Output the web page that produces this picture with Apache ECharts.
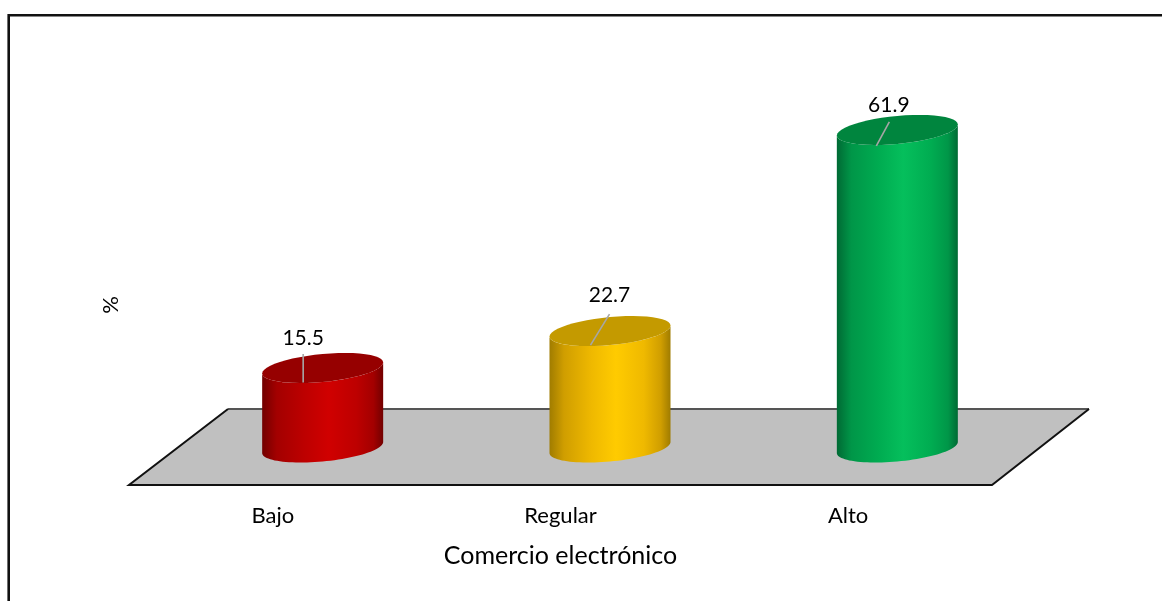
<!DOCTYPE html>
<html>
<head>
<meta charset="utf-8">
<style>html,body{margin:0;padding:0;background:#fff}#c{width:1162px;height:601px}</style>
<script src="https://cdn.jsdelivr.net/npm/echarts@6/dist/echarts.min.js"></script>
</head>
<body>
<div id="c"></div>
<script>
const categories = ['Bajo', 'Regular', 'Alto'];
const values = [15.5, 22.7, 61.9];
const xAxisName = 'Comercio electrónico';
const yAxisName = '%';

const palette = [
  { edge: '#720000', low: '#a30000', mid: '#bd0000', bright: '#d00000', top: '#960000' },
  { edge: '#a07c00', low: '#d09e00', mid: '#efb900', bright: '#ffcb00', top: '#c49a00' },
  { edge: '#006a34', low: '#009648', mid: '#00ac51', bright: '#05bf5c', top: '#00853e' }
];
// leader-line layout relative to the top ellipse centre [fromX, fromY, toX, toY], pixels
const leaders = [[-19.5, 14.5, -19.5, -14], [-19.5, 14, -0.5, -17], [-21, 16, -8, -8]];
const labelOffset = [[-19.5, -30], [-0.5, -36], [-8.5, -25]];

const HALF_W = 60.5, SHEAR = 5.5, RY = 14;
const FONT = 'Lato, Carlito, sans-serif';

function arc(cx, cy, from, to) {
  const pts = [];
  const n = 48;
  for (let i = 0; i <= n; i++) {
    const t = from + (to - from) * i / n;
    pts.push([cx + HALF_W * Math.cos(t), cy + RY * Math.sin(t) - SHEAR * Math.cos(t)]);
  }
  return pts;
}

function renderCylinder(params, api) {
  const i = api.value(0);
  const val = api.value(1);
  const base = api.coord([i, 0]);
  const head = api.coord([i, val]);
  const cx = base[0];
  const c = palette[i];
  const body = arc(cx, base[1], 0, Math.PI).concat(arc(cx, head[1], Math.PI, 0));
  const top = arc(cx, head[1], 0, Math.PI * 2);
  const l = leaders[i], o = labelOffset[i];
  return {
    type: 'group',
    children: [
      {
        type: 'polygon', shape: { points: body },
        style: {
          fill: new echarts.graphic.LinearGradient(0, 0, 1, 0, [
            { offset: 0, color: c.edge },
            { offset: 0.12, color: c.low },
            { offset: 0.35, color: c.mid },
            { offset: 0.55, color: c.bright },
            { offset: 0.78, color: c.mid },
            { offset: 0.92, color: c.low },
            { offset: 1, color: c.edge }
          ])
        }
      },
      { type: 'polygon', shape: { points: top }, style: { fill: c.top } },
      {
        type: 'line',
        shape: { x1: cx + l[0], y1: head[1] + l[1], x2: cx + l[2], y2: head[1] + l[3] },
        style: { stroke: '#a6a6a6', lineWidth: 1.6 }
      },
      {
        type: 'text',
        x: cx + o[0], y: head[1] + o[1],
        style: {
          text: val.toFixed(1), fill: '#000', font: '21px ' + FONT,
          textAlign: 'center', textVerticalAlign: 'middle'
        }
      }
    ]
  };
}

const chart = echarts.init(document.getElementById('c'), null, { renderer: 'canvas' });
chart.setOption({
  animation: false,
  backgroundColor: '#fff',
  textStyle: { fontFamily: FONT },
  graphic: [
    {
      type: 'polygon', z: 0, silent: true,
      shape: { points: [[129, 485], [992, 485], [1089, 409], [228, 409]] },
      style: { fill: '#c0c0c0' }
    },
    {
      type: 'polyline', z: 0, silent: true,
      shape: { points: [[228, 409], [1089, 409]] },
      style: { stroke: '#555', lineWidth: 2, fill: null }
    },
    {
      type: 'polyline', z: 0, silent: true,
      shape: { points: [[228, 409], [129, 485], [992, 485], [1089, 409]] },
      style: { stroke: '#111', lineWidth: 2, fill: null }
    },
    {
      type: 'polyline', z: 0, silent: true,
      shape: { points: [[8.7, 601], [8.7, 15.3], [1162, 15.3]] },
      style: { stroke: '#111', lineWidth: 2.6, fill: null }
    }
  ],
  grid: [
    { left: 179, width: 862, top: 88.4, height: 359.1 },
    { left: 129, width: 863, top: 125, height: 360 }
  ],
  xAxis: [
    { gridIndex: 0, type: 'category', data: categories, show: false },
    {
      gridIndex: 1, type: 'category', data: categories,
      axisLine: { show: false }, axisTick: { show: false },
      axisLabel: { color: '#000', fontSize: 22, margin: 20, fontFamily: FONT },
      name: xAxisName, nameLocation: 'middle', nameGap: 58,
      nameTextStyle: { color: '#000', fontSize: 25, fontFamily: FONT }
    }
  ],
  yAxis: [
    { gridIndex: 0, type: 'value', min: 0, max: 70, show: false },
    {
      gridIndex: 1, type: 'value', min: 0, max: 70,
      axisLine: { show: false }, axisTick: { show: false },
      axisLabel: { show: false }, splitLine: { show: false },
      name: yAxisName, nameLocation: 'middle', nameRotate: 90, nameGap: 7,
      nameTextStyle: { color: '#000', fontSize: 22, fontFamily: FONT }
    }
  ],
  series: [{
    type: 'custom',
    xAxisIndex: 0, yAxisIndex: 0,
    renderItem: renderCylinder,
    clip: false,
    encode: { x: 0, y: 1 },
    data: values.map((v, i) => [i, v])
  }]
});
</script>
</body>
</html>
